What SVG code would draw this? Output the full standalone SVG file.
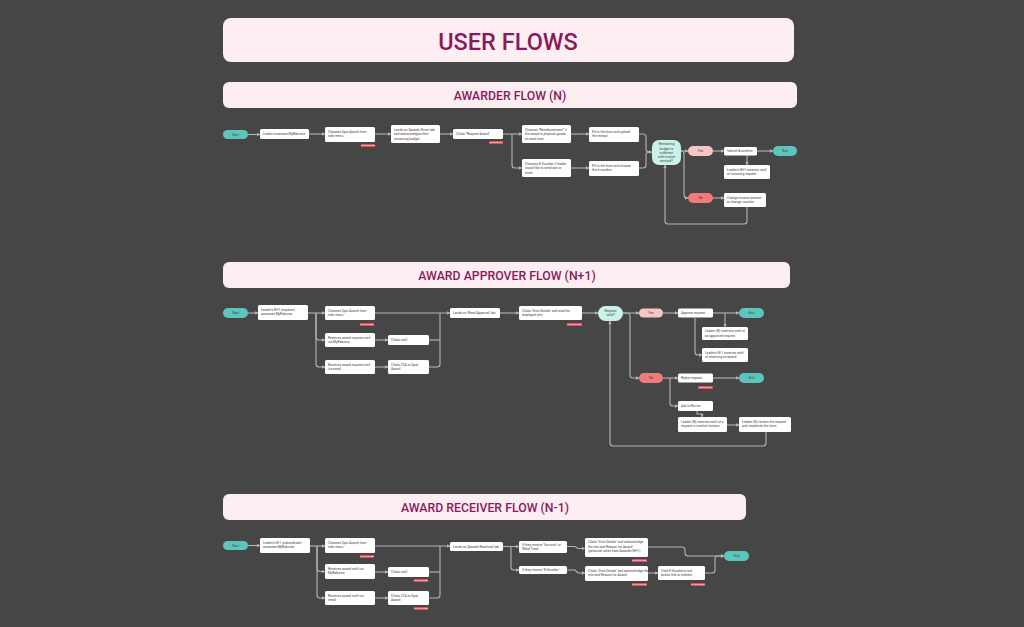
<svg xmlns="http://www.w3.org/2000/svg" width="1024" height="627" viewBox="0 0 1024 627">
<defs>
<style>
.hdr{fill:#fdeef2}
.ttl{font-family:Roboto,"Liberation Sans",sans-serif;font-weight:500;fill:#8a1a5c;text-anchor:middle}
.box{fill:#ffffff}
.t{font-family:Roboto,"Liberation Sans",sans-serif;font-size:3.3px;fill:#4a3a3a}
.c{text-anchor:middle}
.st{fill:#5cc6bd}
.dec{fill:#c9f2ea}
.yes{fill:#f6c6c6}
.no{fill:#ef7b7b}
.tag{fill:#e0505f}
.tt{font-family:Roboto,"Liberation Sans",sans-serif;font-size:2px;fill:#ffffff;text-anchor:middle}
.conn path{fill:none;stroke:#b4b4b4;stroke-width:1.1;marker-end:url(#ar)}
.conn path.n{marker-end:none}
</style>
<marker id="ar" viewBox="0 0 6 6" refX="5.5" refY="3" markerWidth="3" markerHeight="3" orient="auto">
<path d="M0,0 L6,3 L0,6 z" fill="#b4b4b4"/>
</marker>
</defs>
<rect width="1024" height="627" fill="#464646"/>

<g id="title">
<rect class="hdr" x="223" y="18" width="571" height="44" rx="8"/>
<text class="ttl" x="508" y="49.5" font-size="23.5">USER FLOWS</text>
</g>
<g id="h-awarder">
<rect class="hdr" x="223" y="82" width="574" height="26" rx="6"/>
<text class="ttl" x="510" y="99.5" font-size="12.3">AWARDER FLOW (N)</text>
</g>
<g id="h-approver">
<rect class="hdr" x="223" y="262" width="567" height="26" rx="6"/>
<text class="ttl" x="507" y="279.5" font-size="12.3">AWARD APPROVER FLOW (N+1)</text>
</g>
<g id="h-receiver">
<rect class="hdr" x="223" y="494" width="523" height="26" rx="6"/>
<text class="ttl" x="485" y="511.5" font-size="12.3">AWARD RECEIVER FLOW (N-1)</text>
</g>

<!-- connectors -->
<g id="connectors" class="conn">
<!-- awarder -->
<path d="M248,134.5 H260"/>
<path d="M309,134 H325"/>
<path d="M375,134 H391"/>
<path d="M440,134 H453"/>
<path d="M503,134 H522"/>
<path d="M512,134 V165 Q512,168 515,168 H522"/>
<path d="M571,134 H589"/>
<path d="M571,168 H589"/>
<path class="n" d="M639,134 H643 Q646,134 646,137 V149 Q646,152 649,152"/>
<path d="M639,168 H643 Q646,168 646,165 V155 Q646,152 649,152 H652"/>
<path d="M681,151 H688"/>
<path d="M713,151 H724"/>
<path d="M757,151 H773"/>
<path d="M747,155 V165"/>
<path d="M681,151 H681 Q684,151 684,154 V195 Q684,198 687,198 H688"/>
<path d="M713,198 H724"/>
<path d="M747,207 V221 Q747,224 744,224 H668 Q665,224 665,221 V165"/>
<!-- approver -->
<path d="M248,313 H258"/>
<path d="M308,313 H325"/>
<path d="M316,313 V337 Q316,340 319,340 H325"/>
<path d="M316,313 V364 Q316,367 319,367 H325"/>
<path d="M375,340 H388"/>
<path d="M375,367 H388"/>
<path d="M375,313 H450"/>
<path class="n" d="M429,340 H440"/>
<path class="n" d="M429,367 H437 Q440,367 440,364 V313"/>
<path d="M500,313 H519"/>
<path d="M582,313 H598"/>
<path d="M623,313 H639"/>
<path d="M663,313 H678"/>
<path d="M713,313 H739"/>
<path d="M725,313 V327"/>
<path d="M695,318 V352 Q695,355 698,355 H702"/>
<path d="M623,313 H627 Q630,313 630,316 V375 Q630,378 633,378 H639"/>
<path d="M663,378 H678"/>
<path d="M713,378 H739"/>
<path d="M670,378 V403 Q670,406 673,406 H678"/>
<path d="M697,411 V414 H702 V417"/>
<path d="M727,425 H739"/>
<path d="M766,432 V443 Q766,446 763,446 H613 Q610,446 610,443 V321"/>
<!-- receiver -->
<path d="M248,545.5 H260"/>
<path d="M310,546 H325"/>
<path d="M317,546 V568.5 Q317,571.5 320,571.5 H325"/>
<path d="M317,546 V595 Q317,598 320,598 H325"/>
<path d="M375,572 H388"/>
<path d="M375,598 H388"/>
<path d="M375,546 H450"/>
<path class="n" d="M429,572 H440"/>
<path class="n" d="M429,598 H437 Q440,598 440,595 V546"/>
<path d="M503,546.5 H519"/>
<path d="M511,546.5 V567 Q511,570 514,570 H519"/>
<path d="M567,546.5 H575 L578,548.5 H585"/>
<path d="M567,570 H575 L578,573 H585"/>
<path d="M648,573 H658"/>
<path d="M648,547 H682 Q685,547 685,550 V553 Q685,556 688,556 H724"/>
<path d="M705,573 H712 Q715,573 715,570 V559 Q715,556 718,556 H724"/>
</g>

<!-- AWARDER FLOW -->
<g id="aw-start"><rect class="st" x="223" y="130" width="25" height="9" rx="4.5"/><text class="t c" x="235.5" y="135.7">Start</text></g>
<g id="aw-n1"><rect class="box" x="260" y="129" width="49" height="10" rx="1.5"/><text class="t" x="263" y="135.1">Leader accesses MyRakuma</text></g>
<g id="aw-n2"><rect class="box" x="325" y="127" width="50" height="15" rx="1.5"/><text class="t" x="328" y="132.5">Chooses Spot Award from</text><text class="t" x="328" y="137">side menu</text><rect class="tag" x="361" y="144" width="14" height="3" rx="0.5"/><text class="tt" x="368" y="146.2">Go to new page</text></g>
<g id="aw-n3"><rect class="box" x="391" y="125" width="49" height="18" rx="1.5"/><text class="t" x="394" y="130.5">Lands on 'Awards Given' tab</text><text class="t" x="394" y="135">and acknowledges their</text><text class="t" x="394" y="139.5">remaining budget</text></g>
<g id="aw-n4"><rect class="box" x="453" y="129" width="50" height="10" rx="1.5"/><text class="t" x="456" y="135.1">Clicks "Request Award"</text><rect class="tag" x="489" y="141" width="14" height="3" rx="0.5"/><text class="tt" x="496" y="143.2">Modal pop-up</text></g>
<g id="aw-n5"><rect class="box" x="522" y="125" width="49" height="18" rx="1.5"/><text class="t" x="525" y="130.5">Chooses "Reimbursement" if</text><text class="t" x="525" y="135">the award is physical goods</text><text class="t" x="525" y="139.5">or meal treat</text></g>
<g id="aw-n6"><rect class="box" x="589" y="127" width="50" height="15" rx="1.5"/><text class="t" x="592" y="132.5">Fill in the form and upload</text><text class="t" x="592" y="137">the receipt</text></g>
<g id="aw-n7"><rect class="box" x="522" y="159" width="49" height="18" rx="1.5"/><text class="t" x="525" y="164.5">Chooses E-Voucher if leader</text><text class="t" x="525" y="169">would like to send one or</text><text class="t" x="525" y="173.5">more</text></g>
<g id="aw-n8"><rect class="box" x="589" y="161" width="50" height="15" rx="1.5"/><text class="t" x="592" y="166.5">Fill in the form and choose</text><text class="t" x="592" y="171">the e-voucher</text></g>
<g id="aw-dec"><rect class="dec" x="652" y="140" width="29" height="25" rx="7"/><text class="t c" x="666.5" y="145.3">Remaining</text><text class="t c" x="666.5" y="149.5">budget is</text><text class="t c" x="666.5" y="153.7">sufficient</text><text class="t c" x="666.5" y="157.9">with invoice</text><text class="t c" x="666.5" y="162.1">amount?</text></g>
<g id="aw-yes"><rect class="yes" x="688" y="146" width="25" height="10" rx="5"/><text class="t c" x="700.5" y="152.1">Yes</text></g>
<g id="aw-submit"><rect class="box" x="724" y="147" width="33" height="8.5" rx="1.5"/><text class="t" x="727" y="152.4">Submit &amp; confirm</text></g>
<g id="aw-end"><rect class="st" x="773" y="146" width="24" height="10" rx="5"/><text class="t c" x="785" y="152.1">End</text></g>
<g id="aw-notif"><rect class="box" x="724" y="165" width="46" height="14" rx="1.5"/><text class="t" x="727" y="170.5">Leader's N+1 receives notif</text><text class="t" x="727" y="175">of incoming request</text></g>
<g id="aw-no"><rect class="no" x="688" y="193" width="25" height="10" rx="5"/><text class="t c" x="700.5" y="199.1">No</text></g>
<g id="aw-change"><rect class="box" x="724" y="193" width="42" height="14" rx="1.5"/><text class="t" x="727" y="198.5">Change invoice amount</text><text class="t" x="727" y="203">or change voucher</text></g>

<!-- AWARD APPROVER FLOW -->
<g id="ap-start"><rect class="st" x="223" y="308" width="25" height="10" rx="5"/><text class="t c" x="235.5" y="314.1">Start</text></g>
<g id="ap-n1"><rect class="box" x="258" y="305" width="50" height="15" rx="1.5"/><text class="t" x="261" y="310.5">Leader's N+1 (superior)</text><text class="t" x="261" y="315">accesses MyRakuma</text></g>
<g id="ap-n2"><rect class="box" x="325" y="306" width="50" height="14" rx="1.5"/><text class="t" x="328" y="311.5">Chooses Spot Award from</text><text class="t" x="328" y="316">side menu</text><rect class="tag" x="360" y="323" width="14" height="3" rx="0.5"/><text class="tt" x="367" y="325.2">Go to new page</text></g>
<g id="ap-n3"><rect class="box" x="325" y="333" width="50" height="14" rx="1.5"/><text class="t" x="328" y="338.5">Receives award request notif</text><text class="t" x="328" y="343">via MyRakuma</text></g>
<g id="ap-n4"><rect class="box" x="388" y="335" width="41" height="10" rx="1.5"/><text class="t" x="391" y="341.1">Clicks notif</text></g>
<g id="ap-n5"><rect class="box" x="325" y="360" width="50" height="14" rx="1.5"/><text class="t" x="328" y="365.5">Receives award request notif</text><text class="t" x="328" y="370">via email</text></g>
<g id="ap-n6"><rect class="box" x="388" y="360" width="41" height="14" rx="1.5"/><text class="t" x="391" y="365.5">Clicks CTA to Spot</text><text class="t" x="391" y="370">Award</text></g>
<g id="ap-n7"><rect class="box" x="450" y="308" width="50" height="10" rx="1.5"/><text class="t" x="453" y="314.1">Lands on 'Need Approval' tab</text></g>
<g id="ap-n8"><rect class="box" x="519" y="306" width="63" height="14" rx="1.5"/><text class="t" x="522" y="311.5">Clicks 'View Details' and read the</text><text class="t" x="522" y="316">displayed info</text><rect class="tag" x="567" y="323" width="15" height="3" rx="0.5"/><text class="tt" x="574.5" y="325.2">Go to new page</text></g>
<g id="ap-dec"><rect class="dec" x="598" y="306" width="25" height="15" rx="7.5"/><text class="t c" x="610.5" y="312">Request</text><text class="t c" x="610.5" y="316.4">valid?</text></g>
<g id="ap-yes"><rect class="yes" x="639" y="308.5" width="24" height="9" rx="4.5"/><text class="t c" x="651" y="314.1">Yes</text></g>
<g id="ap-approve"><rect class="box" x="678" y="308.5" width="35" height="9" rx="1.5"/><text class="t" x="681" y="314.1">Approve request</text></g>
<g id="ap-end1"><rect class="st" x="739" y="308" width="25" height="10" rx="5"/><text class="t c" x="751.5" y="314.1">End</text></g>
<g id="ap-an1"><rect class="box" x="702" y="327" width="46" height="13" rx="1.5"/><text class="t" x="705" y="332.2">Leader (N) receives notif of</text><text class="t" x="705" y="336.7">an approved request</text></g>
<g id="ap-an2"><rect class="box" x="702" y="348" width="46" height="14" rx="1.5"/><text class="t" x="705" y="353.5">Leader's N-1 receives notif</text><text class="t" x="705" y="358">of receiving an award</text></g>
<g id="ap-no"><rect class="no" x="639" y="373" width="24" height="10" rx="5"/><text class="t c" x="651" y="379.1">No</text></g>
<g id="ap-reject"><rect class="box" x="678" y="373.5" width="35" height="9" rx="1.5"/><text class="t" x="681" y="379.1">Reject request</text><rect class="tag" x="698" y="386" width="15" height="3" rx="0.5"/><text class="tt" x="705.5" y="388.2">Modal pop-up</text></g>
<g id="ap-end2"><rect class="st" x="739" y="373" width="25" height="10" rx="5"/><text class="t c" x="751.5" y="379.1">End</text></g>
<g id="ap-ask"><rect class="box" x="678" y="401" width="35" height="10" rx="1.5"/><text class="t" x="681" y="407.1">Ask to Revise</text></g>
<g id="ap-ln"><rect class="box" x="678" y="417" width="49" height="15" rx="1.5"/><text class="t" x="681" y="422.5">Leader (N) receives notif of a</text><text class="t" x="681" y="427">request in need of revision</text></g>
<g id="ap-lr"><rect class="box" x="739" y="417" width="52" height="15" rx="1.5"/><text class="t" x="742" y="422.5">Leader (N) revises the request</text><text class="t" x="742" y="427">and resubmits the form</text></g>

<!-- AWARD RECEIVER FLOW -->
<g id="rc-start"><rect class="st" x="223" y="541" width="25" height="9" rx="4.5"/><text class="t c" x="235.5" y="546.7">Start</text></g>
<g id="rc-n1"><rect class="box" x="260" y="538" width="50" height="15" rx="1.5"/><text class="t" x="263" y="543.5">Leader's N-1 (subordinate)</text><text class="t" x="263" y="548">accesses MyRakuma</text></g>
<g id="rc-n2"><rect class="box" x="325" y="538" width="50" height="15" rx="1.5"/><text class="t" x="328" y="543.5">Chooses Spot Award from</text><text class="t" x="328" y="548">side menu</text><rect class="tag" x="360" y="555" width="14" height="3" rx="0.5"/><text class="tt" x="367" y="557.2">Go to new page</text></g>
<g id="rc-n3"><rect class="box" x="325" y="564" width="50" height="15" rx="1.5"/><text class="t" x="328" y="569.5">Receives award notif via</text><text class="t" x="328" y="574">MyRakuma</text></g>
<g id="rc-n4"><rect class="box" x="388" y="567" width="41" height="10" rx="1.5"/><text class="t" x="391" y="573.1">Clicks notif</text><rect class="tag" x="414" y="579" width="14" height="3" rx="0.5"/><text class="tt" x="421" y="581.2">Go to new page</text></g>
<g id="rc-n5"><rect class="box" x="325" y="591" width="50" height="14" rx="1.5"/><text class="t" x="328" y="596.5">Receives award notif via</text><text class="t" x="328" y="601">email</text></g>
<g id="rc-n6"><rect class="box" x="388" y="591" width="41" height="14" rx="1.5"/><text class="t" x="391" y="596.5">Clicks CTA to Spot</text><text class="t" x="391" y="601">Award</text><rect class="tag" x="414" y="607" width="14" height="3" rx="0.5"/><text class="tt" x="421" y="609.2">Go to new page</text></g>
<g id="rc-n7"><rect class="box" x="450" y="542" width="53" height="9" rx="1.5"/><text class="t" x="453" y="547.6">Lands on 'Awards Received' tab</text></g>
<g id="rc-n8"><rect class="box" x="519" y="541" width="48" height="12" rx="1.5"/><text class="t" x="522" y="545.8">If they receive 'Souvenir' or</text><text class="t" x="522" y="550.2">'Meal Treat'</text></g>
<g id="rc-n9"><rect class="box" x="519" y="566" width="48" height="8" rx="1.5"/><text class="t" x="522" y="571.1">If they receive 'E-Voucher'</text></g>
<g id="rc-n10"><rect class="box" x="585" y="538" width="63" height="19" rx="1.5"/><text class="t" x="588" y="543.3">Clicks 'View Details' and acknowledge</text><text class="t" x="588" y="547.6">the info and Reason for Award</text><text class="t" x="588" y="551.9">(personal notes from Awarder/N+1)</text><rect class="tag" x="632" y="559" width="15" height="3" rx="0.5"/><text class="tt" x="639.5" y="561.2">Go to new page</text></g>
<g id="rc-n11"><rect class="box" x="585" y="566" width="63" height="15" rx="1.5"/><text class="t" x="588" y="571.5">Clicks 'View Details' and acknowledge the</text><text class="t" x="588" y="576">info and Reason for Award</text><rect class="tag" x="632" y="583" width="15" height="3" rx="0.5"/><text class="tt" x="639.5" y="585.2">Go to new page</text></g>
<g id="rc-n12"><rect class="box" x="658" y="566" width="47" height="14" rx="1.5"/><text class="t" x="661" y="571.5">Click E-Voucher's text</text><text class="t" x="661" y="576">button link to redeem</text><rect class="tag" x="691" y="583" width="14" height="3" rx="0.5"/><text class="tt" x="698" y="585.2">Go to new page</text></g>
<g id="rc-end"><rect class="st" x="724" y="551" width="25" height="10" rx="5"/><text class="t c" x="736.5" y="557.1">End</text></g>
</svg>
